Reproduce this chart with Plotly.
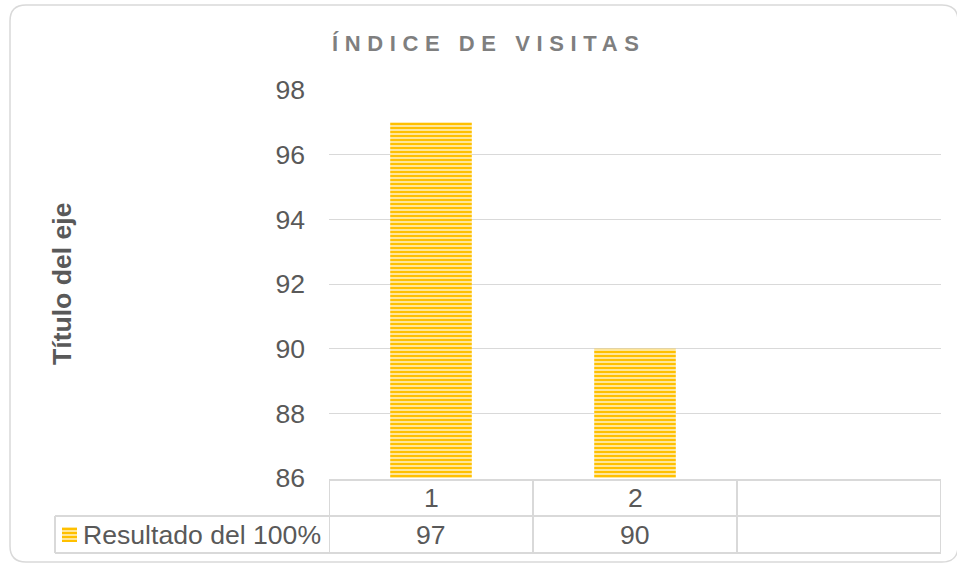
import plotly.graph_objects as go

# ---- data ----
categories = ["1", "2", ""]
values = [97, 90, None]
series_name = "Resultado del 100%"
title_text = "ÍNDICE DE VISITAS"
y_title = "Título del eje"
y_ticks = [86, 88, 90, 92, 94, 96, 98]

W, H = 957, 565
FONT = "Arial, Liberation Sans, sans-serif"
GRID = "#D9D9D9"
TXT = "#595959"
BAR_FG = "#FFC000"
BAR_BG = "#FFE69A"
FS = 26.6

def px(x):
    return x / W

def py(y):
    return 1 - y / H

PL, PR, PT, PB = 329, 941, 90, 478  # plot area in pixels

xs = list(range(len(categories)))

fig = go.Figure()
fig.add_trace(go.Bar(
    x=xs[:2], y=values[:2], name=series_name, width=0.4,
    marker=dict(color=BAR_FG, line=dict(width=0),
                pattern=dict(shape="-", size=4, solidity=0.5,
                             fgcolor=BAR_FG, bgcolor=BAR_BG, fillmode="replace")),
    showlegend=False,
))

shapes = []
line = dict(color=GRID, width=2)
# rounded chart border
x0, x1, y0, y1, r = 10, 958, 5, 562, 16
path = (f"M {px(x0+r)},{py(y0)} L {px(x1-r)},{py(y0)} Q {px(x1)},{py(y0)} {px(x1)},{py(y0+r)} "
        f"L {px(x1)},{py(y1-r)} Q {px(x1)},{py(y1)} {px(x1-r)},{py(y1)} "
        f"L {px(x0+r)},{py(y1)} Q {px(x0)},{py(y1)} {px(x0)},{py(y1-r)} "
        f"L {px(x0)},{py(y0+r)} Q {px(x0)},{py(y0)} {px(x0+r)},{py(y0)} Z")
shapes.append(dict(type="path", xref="paper", yref="paper", path=path,
                   line=dict(color=GRID, width=1.5), layer="below"))
# data table lines
row_top, row_mid, row_bot = 480, 516, 553
shapes.append(dict(type="line", xref="x", yref="paper", x0=-0.5, x1=2.5,
                   y0=py(row_top), y1=py(row_top), line=line))
for yy in (row_mid, row_bot):
    shapes.append(dict(type="line", xref="paper", yref="paper", x0=px(55), x1=px(PR),
                       y0=py(yy), y1=py(yy), line=line))
shapes.append(dict(type="line", xref="paper", yref="paper", x0=px(55), x1=px(55),
                   y0=py(row_mid), y1=py(row_bot), line=line))
for xb in (-0.5, 0.5, 1.5, 2.5):
    shapes.append(dict(type="line", xref="x", yref="paper", x0=xb, x1=xb,
                       y0=py(row_top), y1=py(row_bot), line=line))
# legend key (striped square)
kx0, kx1, ky0, ky1 = 62, 77, 527, 542
shapes.append(dict(type="rect", xref="paper", yref="paper", x0=px(kx0), x1=px(kx1),
                   y0=py(ky1), y1=py(ky0), fillcolor=BAR_BG, line=dict(width=0)))
yy = ky0 + 1
while yy < ky1:
    shapes.append(dict(type="rect", xref="paper", yref="paper", x0=px(kx0), x1=px(kx1),
                       y0=py(yy + 2), y1=py(yy), fillcolor=BAR_FG, line=dict(width=0)))
    yy += 4

annotations = []
for i, c in enumerate(categories):
    annotations.append(dict(x=i, y=py(498), xref="x", yref="paper", text=c, showarrow=False,
                            font=dict(family=FONT, size=FS, color=TXT), yanchor="middle"))
    v = values[i]
    annotations.append(dict(x=i, y=py(535), xref="x", yref="paper",
                            text="" if v is None else str(v), showarrow=False,
                            font=dict(family=FONT, size=FS, color=TXT), yanchor="middle"))
annotations.append(dict(x=px(81), y=py(535), xref="paper", yref="paper", text=series_name,
                        showarrow=False, xanchor="left", yanchor="middle",
                        font=dict(family=FONT, size=FS, color=TXT)))
annotations.append(dict(x=px(62), y=py((PT + PB) / 2), xref="paper", yref="paper",
                        text=f"<b>{y_title}</b>", textangle=-90, showarrow=False,
                        xanchor="center", yanchor="middle",
                        font=dict(family=FONT, size=FS, color=TXT)))
annotations.append(dict(x=px(489), y=py(44), xref="paper", yref="paper",
                        text=f'<b><span style="letter-spacing:6.6px">{title_text}</span></b>',
                        showarrow=False, xanchor="center", yanchor="middle",
                        font=dict(family=FONT, size=22, color="#7F7F7F")))

fig.update_layout(
    width=W, height=H,
    margin=dict(l=0, r=0, t=0, b=0, pad=0),
    paper_bgcolor="white", plot_bgcolor="white",
    font=dict(family=FONT, color=TXT),
    showlegend=False,
    xaxis=dict(domain=[px(PL), px(PR)], range=[-0.5, 2.5], showticklabels=False,
               showgrid=False, zeroline=False, showline=False, fixedrange=True,
               automargin=False),
    yaxis=dict(domain=[py(PB), py(PT)], range=[86, 98], tickvals=y_ticks,
               showgrid=True, gridcolor=GRID, gridwidth=1, zeroline=False,
               showline=False, ticks="", ticklabelstandoff=23, automargin=False,
               tickfont=dict(family=FONT, size=FS, color=TXT)),
    shapes=shapes, annotations=annotations,
)

fig.write_html("out.html", config={"displayModeBar": False},
               post_script="document.body.style.margin='0';document.body.style.overflow='hidden';")
